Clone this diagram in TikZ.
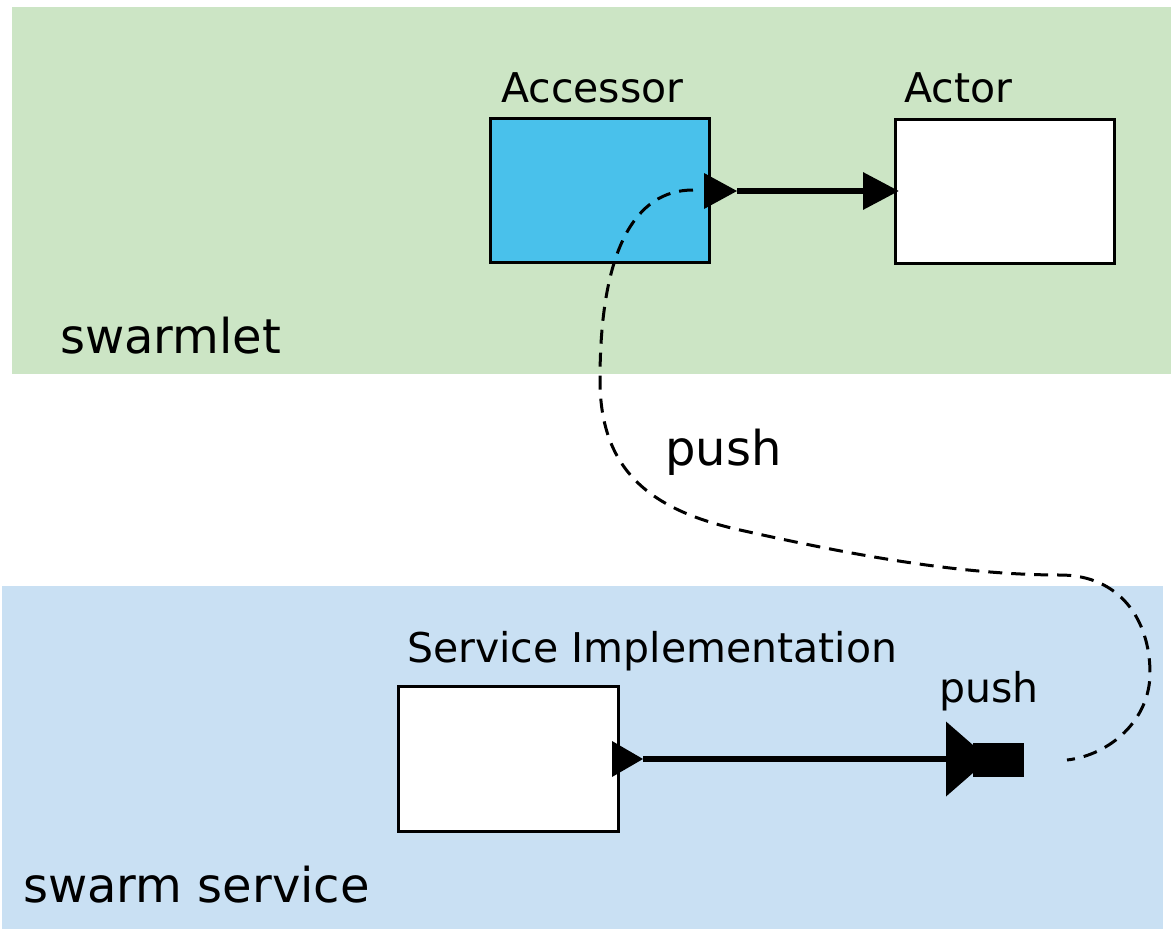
\documentclass[tikz,border=0pt]{standalone}
\usepackage{fontspec}
\setmainfont{DejaVu Sans}
\usetikzlibrary{arrows.meta}
\definecolor{bggreen}{RGB}{204,229,197}
\definecolor{bgblue}{RGB}{201,224,243}
\definecolor{accblue}{RGB}{73,193,235}
\tikzset{
  box/.style={draw=black, line width=3pt, inner sep=0pt, minimum width=219pt, minimum height=144pt},
  lbl/.style={anchor=base west, inner sep=0pt, font=\fontsize{41}{48}\selectfont},
  biglbl/.style={anchor=base west, inner sep=0pt, font=\fontsize{48}{56}\selectfont},
  conn/.style={line width=6.5pt},
  pushline/.style={line width=3pt, dash pattern=on 14pt off 9pt},
}
\begin{document}
\begin{tikzpicture}[x=1pt,y=-1pt]
\useasboundingbox (0,0) rectangle (1171,929);
% background bands
\fill[bggreen] (12,7) rectangle (1171,374);
\fill[bgblue] (2,586) rectangle (1163,929);
% boxes
\node[box, fill=accblue] (acc) at (600,190.5) {};
\node[box, fill=white] (actor) at (1005,191) {};
\node[box, fill=white, minimum width=220pt, minimum height=145pt] (svc) at (508.5,759) {};
% labels
\node[lbl] (accl) at (501,102) {Accessor};
\node[lbl] (actl) at (904,102) {Actor};
\node[biglbl] (swl) at (60,353) {swarmlet};
\node[biglbl] (pushmid) at (665,465) {push};
\node[lbl] (svcl) at (407,662) {Service Implementation};
\node[lbl] (pushport) at (939,702) {push};
\node[biglbl] (ssl) at (23,902) {swarm service};
% ports
\coordinate (ap) at (704,191);
\coordinate (aptip) at (737,191);
\coordinate (sp) at (612,759);
\coordinate (sptip) at (643,759);
\coordinate (op) at (946,759);
\fill (ap) ++(0,-18) -- (aptip) -- ++(-33,18) -- cycle;
\fill (sp) ++(0,-18) -- (sptip) -- ++(-31,18) -- cycle;
\fill (op) ++(0,-37.5) -- ++(43,37.5) -- ++(-43,37.5) -- cycle;
\fill (973,743) rectangle (1024,777);
% connectors
\draw[conn, -{Triangle[length=36pt,width=36pt]}, shorten >=-5pt] (aptip) -- (actor.west |- aptip);
\draw[conn] (sptip) -- (op);
% dashed push connection
\coordinate (dstart) at (693,190);
\coordinate (dend) at (1067,760);
\draw[pushline] (dstart) .. controls (635,190) and (600,250) .. (600,380)
  .. controls (600,470) and (650,510) .. (740,530)
  .. controls (830,550) and (950,575) .. (1060,575)
  .. controls (1120,575) and (1150,620) .. (1150,673)
  .. controls (1150,720) and (1110,755) .. (dend);
\end{tikzpicture}
\end{document}
